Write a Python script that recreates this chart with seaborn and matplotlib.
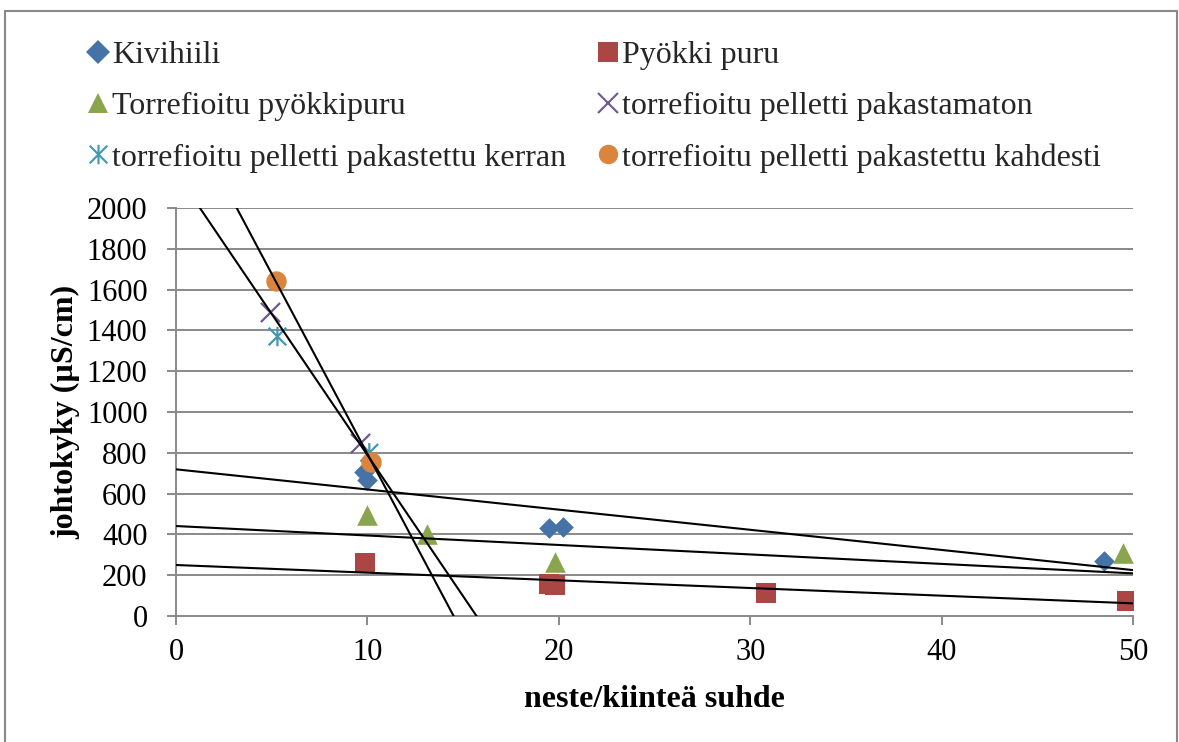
import numpy as np
import pandas as pd
import matplotlib
matplotlib.use("Agg")
import matplotlib.pyplot as plt
from matplotlib.lines import Line2D
from matplotlib.path import Path
from matplotlib.patches import Rectangle
import seaborn as sns

# ---------------- data ----------------
series_names = [
    "Kivihiili",
    "Pyökki puru",
    "Torrefioitu pyökkipuru",
    "torrefioitu pelletti pakastamaton",
    "torrefioitu pelletti pakastettu kerran",
    "torrefioitu pelletti pakastettu kahdesti",
]
kivi_x = [9.8, 10.0, 19.5, 20.2, 48.5]
kivi_y = [705, 665, 430, 437, 271]
pyokki_x = [9.9, 19.5, 19.8, 30.8, 49.7]
pyokki_y = [260, 155, 150, 113, 73]
torr_x = [10.0, 13.1, 19.8, 49.5]
torr_y = [495, 400, 267, 309]
pak0_x = [4.9, 9.6]
pak0_y = [1490, 850]
pak1_x = [5.3, 10.1]
pak1_y = [1370, 800]
pak2_x = [5.2, 10.2]
pak2_y = [1640, 755]

# linear trendlines (intercept, slope) as shown in the chart
trend_names = ["Kivihiili", "Pyökki puru", "Torrefioitu pyökkipuru",
               "torrefioitu pelletti pakastamaton",
               "torrefioitu pelletti pakastettu kahdesti"]
trend_intercept = [719, 250, 441, 2173, 2560]
trend_slope = [-9.88, -3.76, -4.64, -138.4, -176.5]

x_ticks = [0, 10, 20, 30, 40, 50]
y_ticks = [0, 200, 400, 600, 800, 1000, 1200, 1400, 1600, 1800, 2000]
x_label = "neste/kiinteä suhde"
y_label = "johtokyky (µS/cm)"

# ---------------- style ----------------
W, H = 1179, 742
sns.set_theme(style="white")
plt.rcParams["font.family"] = ["Liberation Serif", "DejaVu Serif"]
GRID = "#898989"

colors = ["#4572A7", "#AA4643", "#89A54E", "#71588F", "#4198AF", "#DB843D"]
star = Path([(-0.5, -0.5), (0.5, 0.5), (-0.5, 0.5), (0.5, -0.5), (0, -0.55), (0, 0.55)],
            [Path.MOVETO, Path.LINETO, Path.MOVETO, Path.LINETO, Path.MOVETO, Path.LINETO])
markers = ["D", "s", "^", "x", star, "o"]
sizes = [110, 215, 220, 190, 195, 215]
filled = [True, True, True, False, False, True]

xs = [kivi_x, pyokki_x, torr_x, pak0_x, pak1_x, pak2_x]
ys = [kivi_y, pyokki_y, torr_y, pak0_y, pak1_y, pak2_y]

fig = plt.figure(figsize=(W / 100, H / 100), dpi=100)
ax = fig.add_axes([176 / W, 1 - 616 / H, 957 / W, 408 / H])

for name, x, y, c, m, s, f in zip(series_names, xs, ys, colors, markers, sizes, filled):
    df = pd.DataFrame({"x": x, "y": y})
    if f:
        sns.scatterplot(data=df, x="x", y="y", ax=ax, marker=m, s=s, color=c,
                        edgecolor=c, linewidth=0, zorder=3)
    elif m == "x":
        sns.scatterplot(data=df, x="x", y="y", ax=ax, marker=m, s=s, color=c,
                        linewidth=1.6, zorder=3)
    else:
        sns.scatterplot(data=df, x="x", y="y", ax=ax, marker=m, s=s, color=c,
                        edgecolor=c, facecolor="none", linewidth=1.6, zorder=3)

xline = np.array([0.0, 50.0])
for name, b, a in zip(trend_names, trend_intercept, trend_slope):
    tdf = pd.DataFrame({"x": xline, "y": b + a * xline})
    sns.lineplot(data=tdf, x="x", y="y", ax=ax, color="black", lw=1.5, zorder=4)

ax.set_xlim(0, 50)
ax.set_ylim(0, 2000)
ax.set_xticks(x_ticks)
ax.set_yticks(y_ticks)
ax.grid(False)
for yv in y_ticks[1:]:
    ax.axhline(yv, color=GRID, lw=1.4, zorder=1)
for side in ["top", "right"]:
    ax.spines[side].set_visible(False)
for side in ["left", "bottom"]:
    ax.spines[side].set_color(GRID)
    ax.spines[side].set_linewidth(1.4)
ax.tick_params(axis="both", direction="out", length=6.5, width=1.4, color=GRID,
               labelsize=22, labelcolor="black")
ax.tick_params(axis="y", pad=14)
ax.tick_params(axis="x", pad=9)
ax.tick_params(left=True, bottom=True)

ax.set_xlabel(x_label, fontsize=23, fontweight="bold", color="black")
ax.set_ylabel(y_label, fontsize=23, fontweight="bold", color="black")
ax.xaxis.set_label_coords(0.5, -0.168)
ax.yaxis.set_label_coords(-0.100, 0.5)

handles = []
for name, c, m, f in zip(series_names, colors, markers, filled):
    if f:
        ms = 12 if m == "D" else 14
        handles.append(Line2D([], [], linestyle="none", marker=m, markersize=ms,
                              markerfacecolor=c, markeredgecolor=c, markeredgewidth=0))
    else:
        handles.append(Line2D([], [], linestyle="none", marker=m, markersize=14,
                              markerfacecolor="none", markeredgecolor=c, markeredgewidth=1.5))
order = [0, 2, 4, 1, 3, 5]
fig.legend([handles[i] for i in order], [series_names[i] for i in order],
           ncol=2, loc="upper left", bbox_to_anchor=(88.4 / W, 1 - 41 / H),
           frameon=False, fontsize=23, handlelength=0.6, handletextpad=0.14,
           columnspacing=1.02, labelspacing=0.68, borderpad=0, borderaxespad=0)

fig.add_artist(Rectangle((5 / W, -0.02), (1177 - 5) / W, 1 - 11 / H + 0.02,
                         transform=fig.transFigure, fill=False, edgecolor=GRID, lw=1.5))

fig.savefig("out.png", dpi=100)
